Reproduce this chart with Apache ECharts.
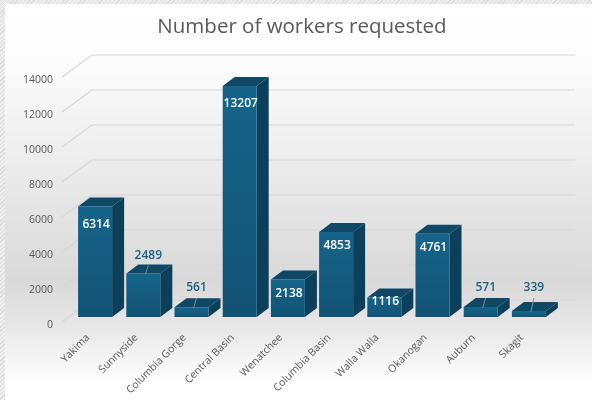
<!DOCTYPE html>
<html><head><meta charset="utf-8">
<style>
html,body{margin:0;padding:0;width:592px;height:400px;overflow:hidden;background:#e6e6e6;}
#hatch{position:absolute;left:0;top:0;width:592px;height:400px;background:repeating-linear-gradient(135deg,#dcdcdc 0 1px,#eeeeee 1px 3px);}
#chart{position:absolute;left:0;top:0;width:592px;height:400px;}
</style>
<script src="https://cdn.jsdelivr.net/npm/echarts@6/dist/echarts.min.js"></script>
</head><body><div id="hatch"></div><div id="chart"></div>
<script>
const categories = ['Yakima','Sunnyside','Columbia Gorge','Central Basin','Wenatchee','Columbia Basin','Walla Walla','Okanogan','Auburn','Skagit'];
const workers = [6314,2489,561,13207,2138,4853,1116,4761,571,339];
const yTicks = [0,2000,4000,6000,8000,10000,12000,14000];
const calloutCategories = ['Sunnyside','Columbia Gorge','Auburn','Skagit'];
const titleText = 'Number of workers requested';

const FONT = '"Open Sans","Noto Sans",sans-serif';
const chart = echarts.init(document.getElementById('chart'), null, {renderer:'canvas'});
const WALL = {dx:30, dy:-22};
const BAR_SHIFT = {dx:7, dy:-5};
const DEPTH = {dx:12, dy:-9};
const BAR_W = 34;
const poly = (points, fill) => ({type:'polygon', shape:{points}, style:{fill}});

function renderWall(params, api){
  const cs = params.coordSys;
  const y = api.coord([0, api.value(1)])[1];
  const x0 = cs.x, x1 = cs.x + cs.width;
  return {type:'polyline', silent:true,
    shape:{points:[[x0-2,y],[x0+WALL.dx-2,y+WALL.dy],[x1+WALL.dx-1,y+WALL.dy]]},
    style:{stroke:'#d6d6d6', lineWidth:1.1, fill:null}};
}

function renderBar(params, api){
  const value = api.value(1);
  const name = categories[api.value(0)];
  const top = api.coord([api.value(0), value]);
  const base = api.coord([api.value(0), 0]);
  const l = top[0] + BAR_SHIFT.dx - BAR_W/2, r = l + BAR_W;
  const t = top[1] + BAR_SHIFT.dy, b = base[1] + BAR_SHIFT.dy;
  const d = DEPTH;
  const children = [
    poly([[r,t],[r+d.dx,t+d.dy],[r+d.dx,b+d.dy],[r,b]], '#0c3f5a'),
    poly([[l,t],[l+d.dx,t+d.dy],[r+d.dx,t+d.dy],[r,t]], '#0e4865'),
    {type:'rect', shape:{x:l,y:t,width:BAR_W,height:b-t},
      style:{fill:new echarts.graphic.LinearGradient(0,0,0,1,[{offset:0,color:'#16648a'},{offset:1,color:'#125274'}])}}
  ];
  const cx = (l+r)/2;
  const label = String(value);
  if (calloutCategories.includes(name)){
    const ty = Math.min(t-18, 288);
    children.push({type:'line', shape:{x1:cx+2,y1:t+1,x2:cx+5,y2:ty+10}, style:{stroke:'#7d8f99',lineWidth:1}});
    children.push({type:'text', style:{x:cx+5,y:ty,text:label,fill:'#1c5f80',font:'600 12px '+FONT,align:'center',verticalAlign:'middle'}});
  } else {
    const off = value>6000 ? 18 : value>2000 ? 14 : 4;
    children.push({type:'text', style:{x:cx+1,y:t+off,text:label,fill:'#ffffff',font:'600 12px '+FONT,align:'center',verticalAlign:'middle'}});
  }
  return {type:'group', children};
}

chart.setOption({
  animation:false,
  backgroundColor:'transparent',
  graphic:[{type:'rect', z:-10, shape:{x:5,y:4,width:587,height:396},
    style:{fill:new echarts.graphic.LinearGradient(0,0,0,1,[
      {offset:0,color:'#ffffff'},{offset:0.13,color:'#fdfdfd'},{offset:0.45,color:'#e9e9e9'},{offset:0.7,color:'#d9d9d9'},{offset:0.82,color:'#e8e8e8'},{offset:0.96,color:'#ffffff'},{offset:1,color:'#ffffff'}])}}],
  title:{text:titleText,left:297,top:12,textAlign:'center',textStyle:{fontFamily:FONT,fontSize:20.5,fontWeight:'normal',color:'#595959'}},
  grid:{left:64,right:46,top:77,bottom:78},
  xAxis:{type:'category',data:categories,axisLine:{show:false},axisTick:{show:false},
    axisLabel:{interval:0,rotate:45,margin:14,fontFamily:FONT,fontSize:10.5,color:'#595959'}},
  yAxis:{type:'value',min:0,max:14000,interval:2000,splitLine:{show:false},axisLine:{show:false},axisTick:{show:false},
    axisLabel:{margin:11,verticalAlign:'top',lineHeight:6,formatter:v=>String(v),fontFamily:FONT,fontSize:10.5,color:'#595959'}},
  series:[
    {type:'custom',name:'wall',silent:true,z:1,renderItem:renderWall,data:yTicks.map(v=>[0,v]),encode:{x:0,y:1}},
    {type:'custom',name:'Workers requested',z:2,renderItem:renderBar,data:workers.map((v,i)=>[i,v]),encode:{x:0,y:1}}
  ]
});
</script></body></html>
